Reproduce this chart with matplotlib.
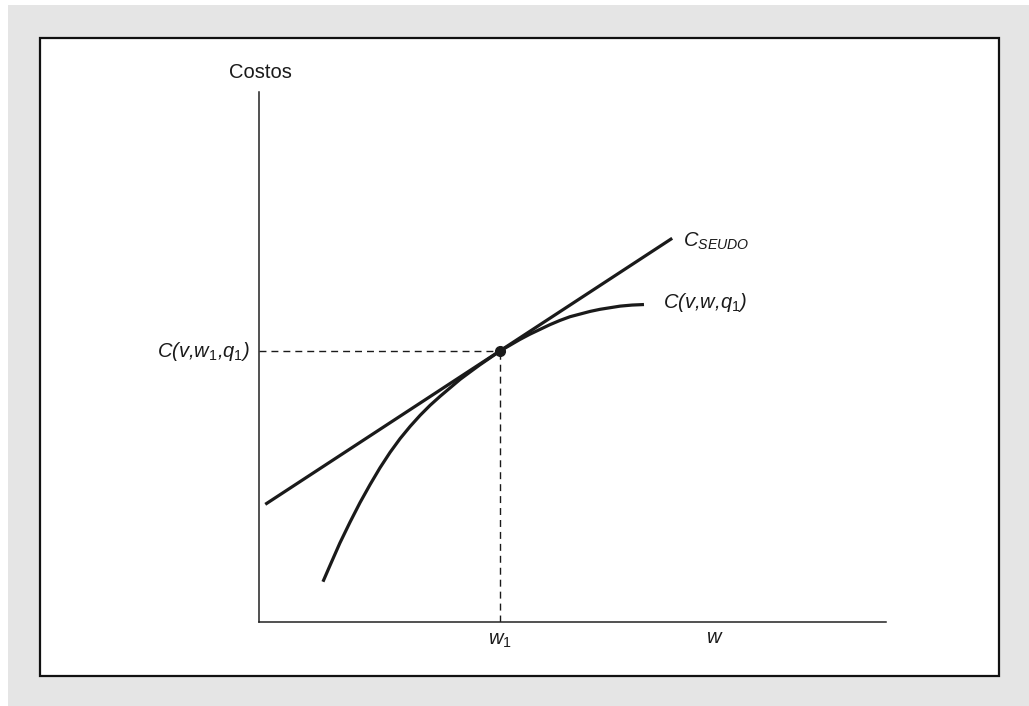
import matplotlib
matplotlib.use("Agg")
import matplotlib.pyplot as plt
from matplotlib.patches import Rectangle

plt.rcParams['font.family'] = ['Liberation Sans', 'DejaVu Sans']
plt.rcParams['mathtext.fontset'] = 'custom'
plt.rcParams['mathtext.rm'] = 'Liberation Sans'
plt.rcParams['mathtext.it'] = 'Liberation Sans:italic'
plt.rcParams['mathtext.bf'] = 'Liberation Sans:bold'
plt.rcParams['lines.scale_dashes'] = False

# Cost function C(v, w, q1) as a function of the wage w (concave)
curve_w = [1.02, 1.13, 1.29, 1.45, 1.61, 1.77, 1.93, 2.09, 2.25, 2.41, 2.57,
           2.73, 2.89, 3.05, 3.21, 3.37, 3.52, 3.68, 3.84, 4.00, 4.16, 4.32,
           4.48, 4.64, 4.80, 4.96, 5.12, 5.28, 5.44, 5.60, 5.76, 5.95, 6.14]
curve_c = [0.76, 1.06, 1.49, 1.88, 2.25, 2.59, 2.91, 3.20, 3.46, 3.69, 3.90,
           4.09, 4.26, 4.42, 4.58, 4.72, 4.85, 4.98, 5.11, 5.22, 5.33, 5.43,
           5.52, 5.61, 5.69, 5.76, 5.81, 5.86, 5.90, 5.93, 5.96, 5.98, 5.99]

# Pseudo cost line (inputs fixed at their w1 levels), tangent at w1
seudo_w = [0.10, 6.59]
seudo_c = [2.22, 7.24]

# Tangency point
w1 = 3.84
c1 = 5.11

fig = plt.figure(figsize=(10.29, 7.06), dpi=100)
fig.patch.set_facecolor('white')

# Gray page background and white framed panel
fig.patches.append(Rectangle((8 / 1029, 0), 1 - 8 / 1029, 1 - 5 / 706,
                             transform=fig.transFigure, facecolor='#e5e5e5',
                             edgecolor='none', zorder=0))
fig.patches.append(Rectangle((40 / 1029, 30 / 706), 959 / 1029, 638 / 706,
                             transform=fig.transFigure, facecolor='white',
                             edgecolor='#111111', linewidth=1.6, zorder=1))

ax = fig.add_axes([259 / 1029, 84 / 706, 627 / 1029, 530 / 706])
ax.set_zorder(5)
ax.set_facecolor('none')
ax.set_xlim(0, 10)
ax.set_ylim(0, 10)
for side in ('top', 'right'):
    ax.spines[side].set_visible(False)
for side in ('left', 'bottom'):
    ax.spines[side].set_color('#222222')
    ax.spines[side].set_linewidth(1.1)
ax.set_xticks([])
ax.set_yticks([])

line_kw = dict(color='#1a1a1a', linewidth=2.3, solid_capstyle='butt',
               solid_joinstyle='round')
ax.plot(seudo_w, seudo_c, **line_kw)
ax.plot(curve_w, curve_c, **line_kw)

dash_kw = dict(color='#1a1a1a', linewidth=1.0, linestyle=(0, (5.0, 3.6)))
ax.plot([0, w1], [c1, c1], **dash_kw)
ax.plot([w1, w1], [0, c1], **dash_kw)

ax.plot([w1], [c1], marker='o', markersize=7, color='#1a1a1a', zorder=5)

fs = 14.5
txt_kw = dict(fontsize=fs, color='#1a1a1a', clip_on=False)
ax.text(0.02, 10.36, 'Costos', ha='center', va='center', **txt_kw)
ax.text(-0.14, c1, r'C(v,w$_{\mathrm{1}}$,q$_{\mathrm{1}}$)', ha='right',
        va='center', style='italic', **txt_kw)
ax.text(6.76, 7.19, r'C$_{SEUDO}$', ha='left', va='center', style='italic',
        **txt_kw)
ax.text(6.44, 6.02, r'C(v,w,q$_{\mathrm{1}}$)', ha='left', va='center',
        style='italic', **txt_kw)
ax.text(w1, -0.34, r'w$_{\mathrm{1}}$', ha='center', va='center',
        style='italic', **txt_kw)
ax.text(7.26, -0.30, 'w', ha='center', va='center', style='italic', **txt_kw)

fig.savefig('out.png', dpi=100)
